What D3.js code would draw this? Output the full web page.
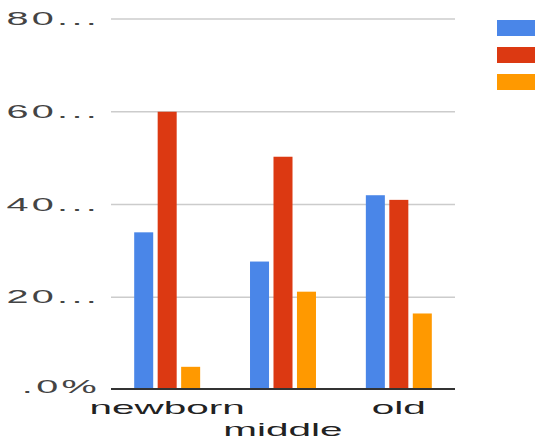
<!DOCTYPE html>
<html>
<head>
<meta charset="utf-8">
<script src="https://cdn.jsdelivr.net/npm/d3@7"></script>
<style>
  html, body { margin: 0; padding: 0; background: #fff; }
  svg { display: block; font-family: "Liberation Sans", Arial, sans-serif; }
</style>
</head>
<body>
<svg id="chart" width="535" height="441"></svg>
<script>
// Age groups along the x axis
const categories = ["newborn", "middle", "old"];
// One value per age group for each of the three series
const seriesA = [34, 27.7, 42];
const seriesB = [60, 50.3, 41];
const seriesC = [5, 21.2, 16.5];
const seriesColors = ["#4a86e8", "#dc3912", "#ff9900"];
// Y axis ticks and their labels
const yTicks = [0, 20, 40, 60, 80];
const yTickLabels = [".0%", "20...", "40...", "60...", "80..."];

const series = [seriesA, seriesB, seriesC];
const rows = categories.map((c, i) => ({ cat: c, vals: series.map(s => s[i]) }));

const svg = d3.select("#chart");
const plotLeft = 111, plotRight = 455, plotTop = 19, plotBottom = 390;

const x0 = d3.scaleBand().domain(categories).range([plotLeft, plotRight])
  .paddingInner(0.39).paddingOuter(0.18);
const x1 = d3.scaleBand().domain(d3.range(series.length)).range([0, x0.bandwidth()])
  .paddingInner(0.19).paddingOuter(0.1);
const y = d3.scaleLinear().domain([0, 80]).range([plotBottom, plotTop]);

// Horizontal gridlines
svg.append("g").selectAll("line").data(yTicks.filter(t => t > 0)).join("line")
  .attr("x1", plotLeft).attr("x2", plotRight)
  .attr("y1", d => y(d)).attr("y2", d => y(d))
  .attr("stroke", "#cccccc").attr("stroke-width", 1.5);

// Y tick labels, stretched horizontally
svg.append("g").selectAll("text").data(yTicks).join("text")
  .attr("transform", d => `translate(${plotLeft - 11},${y(d) + (d === 0 ? 3 : 6)}) scale(2.2,1)`)
  .attr("text-anchor", "end")
  .attr("font-size", 18)
  .attr("letter-spacing", 1.5)
  .attr("fill", "#444")
  .text((d, i) => yTickLabels[i]);

// Grouped bars
const groups = svg.append("g").selectAll("g").data(rows).join("g")
  .attr("transform", d => `translate(${x0(d.cat)},0)`);
groups.selectAll("rect").data(d => d.vals).join("rect")
  .attr("x", (d, i) => x1(i))
  .attr("width", x1.bandwidth())
  .attr("y", d => y(d))
  .attr("height", d => y(0) - y(d))
  .attr("fill", (d, i) => seriesColors[i]);

// Baseline
svg.append("line")
  .attr("x1", plotLeft).attr("x2", plotRight)
  .attr("y1", y(0) - 1).attr("y2", y(0) - 1)
  .attr("stroke", "#333").attr("stroke-width", 2);

// Category labels, alternating between two rows
svg.append("g").selectAll("text").data(categories).join("text")
  .attr("transform", (d, i) => `translate(${x0(d) + x0.bandwidth() / 2},${i % 2 ? 436 : 414}) scale(2.25,1)`)
  .attr("text-anchor", "middle")
  .attr("font-size", 18)
  .attr("fill", "#222")
  .text(d => d);

// Legend swatches
svg.append("g").selectAll("rect").data(seriesColors).join("rect")
  .attr("x", 497)
  .attr("y", (d, i) => 20 + i * 27)
  .attr("width", 40).attr("height", 16)
  .attr("fill", d => d);
</script>
</body>
</html>
